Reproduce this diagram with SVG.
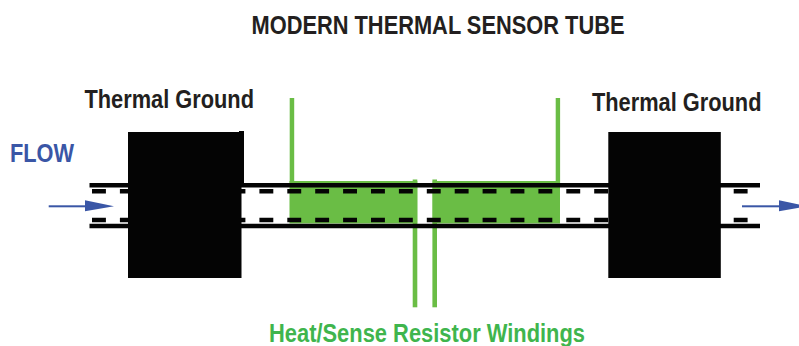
<svg xmlns="http://www.w3.org/2000/svg" width="799" height="346" viewBox="0 0 799 346">
<style>
text{font-family:"Liberation Sans",Arial,sans-serif;font-weight:700;font-size:25px}
.k{fill:#231f20}
.b{fill:#040404}
.g{fill:#6abd45}
.t{fill:#3fb54d}
.a{fill:#3a56a6}
.wall{stroke:#040404;stroke-width:4.6;fill:none}
.dash{stroke:#040404;stroke-width:4.4;stroke-dasharray:13.9 14;fill:none}
</style>
<rect width="799" height="346" fill="#fff"/>
<text class="k" x="251.5" y="33.6" textLength="373" lengthAdjust="spacingAndGlyphs">MODERN THERMAL SENSOR TUBE</text>
<g id="windings">
<rect class="g" x="289.5" y="181" width="127.8" height="42.5"/>
<rect class="g" x="432.7" y="181" width="127.3" height="42.5"/>
<rect class="g" x="289.7" y="98" width="4.5" height="85"/>
<rect class="g" x="555.7" y="98" width="4.4" height="85"/>
<rect class="g" x="412.7" y="179.5" width="4.6" height="127.8"/>
<rect class="g" x="432.4" y="179.5" width="4.6" height="127.8"/>
<text class="t" x="269" y="341.7" textLength="316" lengthAdjust="spacingAndGlyphs">Heat/Sense Resistor Windings</text>
</g>
<g id="connectors">
<path class="wall" d="M89.5 185.3H760M89.5 226H760"/>
<path class="dash" d="M92 191.2H747.6M92 220H747.6"/>
</g>
<g id="ground-left">
<path class="b" d="M128 132H239V131H244V183H241.5V278H128Z"/>
<text class="k" x="84.5" y="108.3" textLength="169.5" lengthAdjust="spacingAndGlyphs">Thermal Ground</text>
</g>
<g id="ground-right">
<rect class="b" x="608.3" y="132" width="112.5" height="146"/>
<text class="k" x="592" y="111.3" textLength="169.5" lengthAdjust="spacingAndGlyphs">Thermal Ground</text>
</g>
<g id="flow-in">
<text class="a" x="10" y="161.7" textLength="64" lengthAdjust="spacingAndGlyphs">FLOW</text>
<rect class="a" x="48.7" y="205.3" width="37" height="2"/>
<path class="a" d="M85 200.3L114 206.3L85 211.3Z"/>
</g>
<g id="flow-out">
<rect class="a" x="742" y="205.3" width="38" height="2"/>
<path class="a" d="M779 200.3L808 206.3L779 211.3Z"/>
</g>
</svg>
